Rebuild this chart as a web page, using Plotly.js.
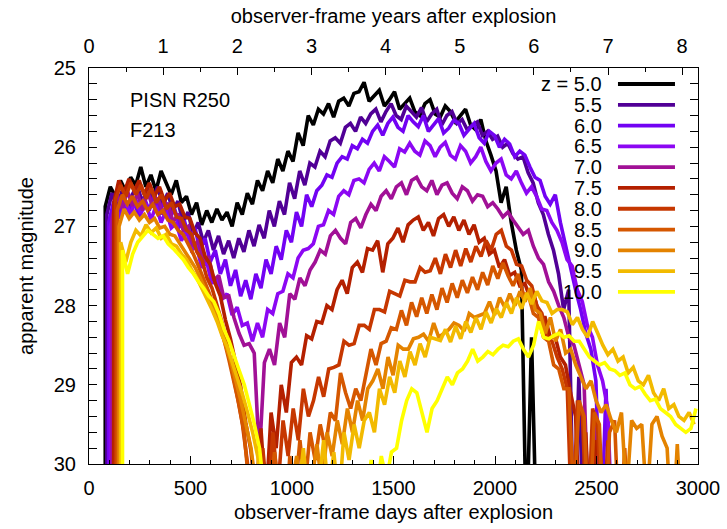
<!DOCTYPE html>
<html><head><meta charset="utf-8">
<script src="https://cdn.plot.ly/plotly-3.0.1.min.js"></script>
<style>html,body{margin:0;padding:0;background:#fff}#chart{width:727px;height:529px}</style>
</head><body><div id="chart"></div>
<script>
// ---- data (observer-frame days, apparent magnitude) ----
const STEP_DAYS = 25;              // sampling step of each light curve
const DAYS_PER_YEAR = 365.25;
const zLabels = ['5.0','5.5','6.0','6.5','7.0','7.5','8.0','8.5','9.0','9.5','10.0'];
// first day of each light curve (first value = below-detection level at that same day)
const startDays = [80, 88, 97, 105, 114, 122, 131, 139, 148, 156, 165];

const magZ50 = [31,
26.75,26.5,26.62,26.42,26.55,26.38,26.48,26.25,26.5,26.35,
26.55,26.3,26.45,26.6,26.42,26.7,26.62,26.85,26.7,26.98,
26.8,26.95,26.78,26.92,26.82,27.0,26.7,26.85,26.58,26.72,
26.42,26.55,26.3,26.45,26.15,26.3,26.05,26.18,25.82,25.98,
25.6,25.72,25.52,25.58,25.45,25.62,25.42,25.38,25.48,25.32,
25.3,25.18,25.42,25.35,25.28,25.48,25.4,25.3,25.52,25.45,
25.38,25.55,25.6,25.45,25.4,25.58,25.62,25.48,25.55,25.68,
25.6,25.52,25.72,25.78,25.65,25.92,26.1,26.3,26.7,26.5,
26.95,27.3,27.55,31,28.4,31];

const magZ55 = [31,
26.85,26.58,26.75,26.55,26.78,26.6,26.48,26.7,26.52,26.66,
26.5,26.72,26.58,26.8,26.68,26.95,26.82,27.1,26.95,27.2,
27.05,27.3,27.12,27.35,27.18,27.4,27.15,27.32,27.05,27.25,
26.98,27.15,26.8,27.0,26.68,26.85,26.45,26.65,26.3,26.48,
26.2,26.25,26.05,26.12,25.92,25.88,25.95,25.75,25.7,25.8,
25.62,25.7,25.58,25.52,25.68,25.55,25.45,25.6,25.65,25.48,
25.55,25.62,25.5,25.68,25.58,25.52,25.72,25.6,25.55,25.7,
25.65,25.78,25.72,25.68,25.85,25.8,25.9,25.86,26.0,25.95,
26.08,26.15,26.12,26.32,26.45,26.7,26.85,27.1,27.3,27.6,
28.05,27.8,31,28.9,31];

const magZ60 = [31,
26.95,26.68,26.85,26.62,26.82,26.66,26.9,26.64,26.8,26.58,
26.85,26.66,26.9,26.78,27.0,26.95,27.18,27.02,27.3,27.15,
27.45,27.3,27.6,27.42,27.75,27.55,27.88,27.68,27.92,27.6,
27.78,27.42,27.6,27.25,27.42,27.05,27.2,26.82,27.0,26.6,
26.75,26.55,26.48,26.35,26.38,26.2,26.12,26.15,25.98,26.02,
25.9,25.95,25.8,25.72,25.85,25.7,25.62,25.75,25.8,25.6,
25.68,25.74,25.6,25.8,25.72,25.64,25.82,25.76,25.66,25.7,
25.85,25.78,25.7,25.88,25.95,25.8,25.85,26.0,25.9,25.96,
26.12,26.05,26.1,26.25,26.38,26.42,26.62,26.72,26.6,26.95,
27.25,27.5,27.8,28.05,28.35,28.55,28.95,31,29.05,31];

const magZ65 = [31,
27.0,26.75,26.9,26.68,26.86,26.66,26.84,26.7,26.92,26.74,
26.95,26.8,27.02,26.96,27.18,27.05,27.3,27.25,27.52,27.45,
27.72,27.65,27.92,27.85,28.12,28.02,28.25,28.22,28.45,28.22,
28.4,28.05,28.1,27.85,27.82,27.6,27.65,27.4,27.3,27.28,
27.22,27.0,26.98,26.8,26.85,26.62,26.55,26.6,26.42,26.4,
26.45,26.28,26.2,26.3,26.12,26.18,26.25,26.02,26.06,25.95,
26.05,26.1,25.92,25.98,26.12,26.0,25.94,26.1,26.15,25.98,
26.05,26.2,26.12,26.0,26.18,26.3,26.2,26.15,26.35,26.4,
26.3,26.45,26.58,26.5,26.62,26.78,26.8,26.95,27.05,27.2,
27.42,27.5,27.8,27.95,28.25,28.4,28.75,28.95,29.3,31];

const magZ70 = [31,
26.9,26.6,26.78,26.55,26.74,26.58,26.8,26.56,26.76,26.64,
26.85,26.7,26.95,26.84,27.05,27.0,27.25,27.18,27.45,27.38,
27.68,27.62,27.9,27.88,28.15,28.35,28.5,28.48,28.6,29.92,
28.72,28.55,28.75,28.22,28.4,27.85,27.92,27.65,27.75,27.55,
27.45,27.3,27.35,27.12,27.05,27.15,27.22,26.95,26.9,27.02,
26.85,26.72,26.8,26.62,26.55,26.65,26.5,26.45,26.6,26.42,
26.38,26.5,26.55,26.42,26.6,26.48,26.45,26.58,26.65,26.5,
26.55,26.68,26.6,26.62,26.75,26.7,26.78,26.88,26.82,26.92,
27.02,27.1,27.05,27.25,27.4,27.48,27.7,27.82,28.0,28.15,
28.4,28.5,28.75,29.0,31,29.4,31];

const magZ75 = [31,
26.7,26.42,26.58,26.4,26.55,26.42,26.6,26.45,26.62,26.5,
26.68,26.58,26.75,26.72,26.88,26.9,27.08,27.15,27.38,27.48,
27.72,27.88,28.18,28.42,28.72,29.02,29.48,29.82,30.4,29.55,
30.5,29.35,29.8,29.0,29.35,28.72,28.65,28.75,28.38,28.42,
28.2,28.22,28.0,28.05,27.8,27.68,27.85,27.52,27.45,27.58,
27.28,27.3,27.18,27.58,27.22,27.15,27.02,27.2,26.98,26.92,
26.88,27.05,26.95,27.12,26.9,26.85,27.0,26.88,27.05,26.92,
27.1,26.98,27.2,27.15,27.35,27.3,27.52,27.42,27.62,27.58,
27.75,27.72,27.9,27.92,28.15,28.15,28.4,28.4,28.65,28.75,
29.1,29.4,31,29.6,31,29.7,29.95,31];

const magZ80 = [31,
26.65,26.48,26.62,26.45,26.6,26.48,26.65,26.52,26.7,26.6,
26.78,26.7,26.88,26.9,27.05,27.1,27.32,27.42,27.65,27.78,
28.0,28.22,28.5,28.8,29.15,29.5,30.1,30.6,31,29.8,
30.5,29.6,30.3,29.45,29.9,29.3,29.7,29.05,29.4,29.2,
28.9,29.15,28.8,28.78,28.75,28.45,28.5,28.48,28.25,28.25,
28.3,28.05,28.05,28.08,27.82,27.85,27.88,27.68,27.7,27.7,
27.52,27.58,27.56,27.4,27.6,27.35,27.52,27.3,27.5,27.28,
27.45,27.25,27.38,27.18,27.3,27.1,27.05,27.25,27.3,27.48,
27.5,27.68,27.75,28.0,28.1,28.4,28.45,28.65,28.8,29.05,
31,29.2,29.4,31,29.3,29.55,31,29.7,31];

const magZ85 = [31,
26.8,26.6,26.72,26.62,26.75,26.68,26.8,26.72,26.85,26.8,
26.92,26.95,27.05,27.1,27.22,27.35,27.5,27.65,27.82,28.0,
28.2,28.42,28.68,28.95,29.25,29.6,30.2,31,31,31,
30.4,29.85,30.5,31,29.9,30.4,29.7,30.3,29.6,29.95,
29.5,29.8,29.35,29.45,28.85,29.1,29.3,29.05,29.2,28.9,
28.55,28.75,28.48,28.45,28.28,28.3,28.06,28.25,27.96,28.14,
27.9,28.1,27.86,28.05,27.78,27.96,27.72,27.9,27.68,27.84,
27.64,27.8,27.58,27.74,27.5,27.66,27.46,27.62,27.75,27.6,
27.85,27.86,28.1,28.15,28.4,28.45,28.75,28.8,29.05,29.05,
30.5,29.2,29.4,31,29.35,29.5,31,29.6,29.45,31,
29.8,31];

const magZ90 = [31,
27.0,26.78,26.9,26.82,26.92,26.85,26.95,26.9,27.02,27.0,
27.1,27.12,27.22,27.3,27.4,27.52,27.65,27.8,27.95,28.1,
28.3,28.5,28.7,28.95,29.2,29.5,29.8,30.3,31,31,
31,30.5,31,31,30.3,29.9,30.5,31,30.2,29.75,
30.3,29.6,29.9,29.45,29.75,29.3,29.6,29.2,29.45,29.05,
28.95,28.8,29.05,28.65,28.88,28.5,28.55,28.55,28.42,28.4,
28.36,28.45,28.22,28.4,28.35,28.3,28.22,28.25,28.32,28.1,
28.15,28.12,28.1,27.95,28.12,27.9,28.02,27.85,28.0,27.82,
27.95,27.78,28.05,28.1,28.35,28.15,28.45,28.3,28.6,28.55,
28.75,28.9,29.05,28.95,29.2,29.35,29.25,29.45,29.6,29.35,
30.4,29.45,29.55,29.5,30.5,29.5,29.4,29.65,29.8,31,
29.75,31];

const magZ95 = [31,
27.2,27.45,27.2,27.05,27.12,26.98,27.08,27.02,27.15,27.1,
27.22,27.25,27.35,27.42,27.55,27.65,27.78,27.9,28.05,28.2,
28.38,28.52,28.72,28.9,29.12,29.35,29.6,29.9,30.4,31,
31,31,31,31,31,30.4,29.8,30.5,31,30.3,
29.7,30.4,29.85,30.5,29.6,29.95,29.5,29.8,29.45,29.35,
29.6,29.05,29.25,28.9,29.1,28.7,28.9,28.58,28.75,28.48,
28.65,28.4,28.42,28.44,28.3,28.46,28.26,28.42,28.2,28.34,
28.15,28.3,28.08,28.22,28.04,28.15,27.96,28.1,27.9,28.04,
27.84,27.98,27.82,27.94,27.96,28.1,28.05,28.05,28.08,28.24,
28.15,28.3,28.4,28.2,28.35,28.5,28.62,28.55,28.7,28.65,
28.85,28.78,28.95,29.0,28.88,29.1,29.2,29.05,29.3,29.25,
29.4,29.45,29.35,29.5];

const magZ100 = [31,
27.3,27.6,27.35,27.2,27.12,27.05,27.1,27.15,27.12,27.22,
27.28,27.35,27.42,27.52,27.6,27.7,27.78,27.88,27.95,28.1,
28.3,28.45,28.65,28.82,29.0,29.25,29.5,29.8,30.3,31,
31,31,31,31,31,31,31,31,31,31,
31,31,30.5,31,31,30.4,31,30.6,30.5,29.95,
30.4,29.9,30.2,29.85,29.8,29.45,29.2,29.05,29.1,29.35,
29.6,29.3,29.2,29.05,28.9,29.0,28.85,28.8,28.7,28.55,
28.7,28.65,28.58,28.62,28.55,28.5,28.52,28.45,28.42,28.55,
28.65,28.5,28.2,28.4,28.42,28.38,28.35,28.4,28.38,28.45,
28.45,28.55,28.65,28.7,28.75,28.72,28.8,28.82,28.88,28.85,
29.0,29.05,29.02,29.12,29.2,29.18,29.3,29.35,29.4,29.5,
29.55,29.6,29.55,29.3];

const series = [magZ50, magZ55, magZ60, magZ65, magZ70, magZ75, magZ80, magZ85, magZ90, magZ95, magZ100];

// ---- styles ----
const colors = ['#000000','#510096','#7202f3','#8c07f3','#a11096','#b42000','#c63700','#d55700','#e48300','#f2ba00','#ffff00'];
const FONT = 'Liberation Sans, Arial, Helvetica, sans-serif';
const LINE_W = 3.6;

const traces = series.map((mags, k) => ({
  type: 'scatter', mode: 'lines',
  x: mags.map((_, i) => startDays[k] + STEP_DAYS * Math.max(0, i - 1)),
  y: mags,
  line: { color: colors[k], width: LINE_W },
  name: 'z = ' + zLabels[k], showlegend: false, hoverinfo: 'skip'
}));
// empty trace that only registers the top (years) axis
traces.push({ type: 'scatter', mode: 'lines', x: [null], y: [null], xaxis: 'x2', yaxis: 'y',
  showlegend: false, hoverinfo: 'skip' });

// legend drawn gnuplot-style: text right-aligned, line sample to its right
const legTextX = 0.8456, legLineX0 = 0.8686, legLineX1 = 0.9622;
const legTop = 0.9596, legStep = 0.0525;
const annotations = zLabels.map((lab, k) => ({
  xref: 'paper', yref: 'paper', x: legTextX, y: legTop - k * legStep,
  xanchor: 'right', yanchor: 'middle', showarrow: false,
  text: k === 0 ? 'z = ' + lab : lab, font: { size: 20, color: '#000' }
}));
const shapes = zLabels.map((lab, k) => ({
  type: 'line', xref: 'paper', yref: 'paper',
  x0: legLineX0, x1: legLineX1, y0: legTop - k * legStep, y1: legTop - k * legStep,
  line: { color: colors[k], width: 3.8 }
}));
annotations.push({ xref: 'paper', yref: 'paper', x: 0.064, y: 0.919, xanchor: 'left', yanchor: 'middle',
  showarrow: false, text: 'PISN R250', font: { size: 20, color: '#000' } });
annotations.push({ xref: 'paper', yref: 'paper', x: 0.064, y: 0.843, xanchor: 'left', yanchor: 'middle',
  showarrow: false, text: 'F213', font: { size: 20, color: '#000' } });

const axisCommon = {
  showgrid: false, zeroline: false, showline: true, linecolor: '#000', linewidth: 1,
  ticks: 'inside', tickcolor: '#000', tickwidth: 1, automargin: false,
  tickfont: { size: 20, color: '#000' }
};

const layout = {
  width: 727, height: 529,
  margin: { l: 89, r: 29, t: 68, b: 65, pad: 0 },
  paper_bgcolor: '#fff', plot_bgcolor: '#fff',
  font: { family: FONT, size: 20, color: '#000' },
  showlegend: false,
  xaxis: Object.assign({}, axisCommon, {
    range: [0, 3000], tick0: 0, dtick: 500, ticklen: 8, ticklabelstandoff: 6,
    minor: { ticks: 'inside', dtick: 100, ticklen: 4, tickcolor: '#000', showgrid: false },
    title: { text: 'observer-frame days after explosion', standoff: 6, font: { size: 20 } }
  }),
  xaxis2: Object.assign({}, axisCommon, {
    overlaying: 'x', side: 'top', anchor: 'y',
    range: [0, 3000 / DAYS_PER_YEAR], tick0: 0, dtick: 1, ticklen: 7, ticklabelstandoff: 6,
    minor: { ticks: 'inside', dtick: 0.5, ticklen: 4, tickcolor: '#000', showgrid: false },
    title: { text: 'observer-frame years after explosion', standoff: 6, font: { size: 20 } }
  }),
  yaxis: Object.assign({}, axisCommon, {
    range: [30, 25], tick0: 25, dtick: 1, ticklen: 8, mirror: 'allticks', ticklabelstandoff: 8,
    minor: { ticks: 'inside', dtick: 0.2, ticklen: 4, tickcolor: '#000', showgrid: false },
    title: { text: 'apparent magnitude', standoff: 14, font: { size: 20 } }
  }),
  annotations: annotations,
  shapes: shapes
};

Plotly.newPlot('chart', traces, layout, { staticPlot: true, displayModeBar: false });
</script>
</body></html>
